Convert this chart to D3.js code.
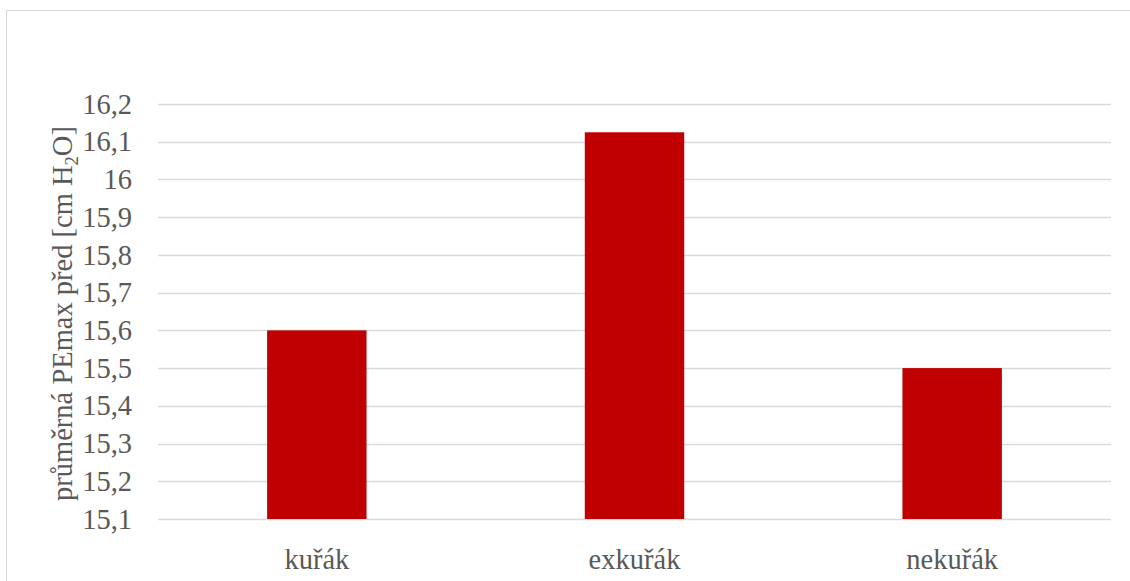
<!DOCTYPE html>
<html>
<head>
<meta charset="utf-8">
<script src="https://cdn.jsdelivr.net/npm/d3@7"></script>
<style>
  html, body { margin: 0; padding: 0; background: #fff; }
  svg { display: block; }
  text { font-family: "Liberation Serif", "Times New Roman", serif; fill: #595959; }
</style>
</head>
<body>
<svg id="chart" width="1130" height="581"></svg>
<script>
// Average PEmax before, by smoking status
const categories = ["kuřák", "exkuřák", "nekuřák"];
const values = [15.6, 16.125, 15.5];
const yTicks = [15.1, 15.2, 15.3, 15.4, 15.5, 15.6, 15.7, 15.8, 15.9, 16.0, 16.1, 16.2];

const W = 1130, H = 581;
const margin = { left: 158, right: 19, top: 104, bottom: 62 };
const FONT = '"Liberation Serif", "Times New Roman", serif';
const FS = "28.5px";

const svg = d3.select("#chart");

// outer chart frame
svg.append("rect")
  .attr("x", 6.5).attr("y", 10.5)
  .attr("width", W + 10).attr("height", H + 10)
  .attr("fill", "none").attr("stroke", "#d9d9d9").attr("stroke-width", 1);

const x = d3.scaleBand()
  .domain(categories)
  .range([margin.left, W - margin.right])
  .paddingInner(0.687)
  .paddingOuter(0.3435);

const y = d3.scaleLinear()
  .domain([15.1, 16.2])
  .range([H - margin.bottom, margin.top]);

const fmt = v => (Math.round(v * 10) / 10).toString().replace(".", ",");

// gridlines
svg.append("g")
  .selectAll("line")
  .data(yTicks)
  .join("line")
  .attr("x1", margin.left).attr("x2", W - margin.right)
  .attr("y1", d => Math.round(y(d)) + 0.5).attr("y2", d => Math.round(y(d)) + 0.5)
  .attr("stroke", "#d9d9d9").attr("stroke-width", 1.5);

// y axis labels
const yAxis = d3.axisLeft(y).tickValues(yTicks).tickFormat(fmt).tickSize(0).tickPadding(26);
const gy = svg.append("g").attr("transform", `translate(${margin.left},0)`).call(yAxis);
gy.select(".domain").remove();
gy.selectAll("text")
  .attr("fill", "#595959")
  .style("font-family", FONT)
  .style("font-size", FS);

// bars
svg.append("g")
  .selectAll("rect")
  .data(values)
  .join("rect")
  .attr("x", (d, i) => x(categories[i]))
  .attr("width", x.bandwidth())
  .attr("y", d => y(d))
  .attr("height", d => y(15.1) - y(d))
  .attr("fill", "#c00000");

// category labels
const xAxis = d3.axisBottom(x).tickSize(0).tickPadding(30);
const gx = svg.append("g").attr("transform", `translate(0,${H - margin.bottom})`).call(xAxis);
gx.select(".domain").remove();
gx.selectAll("text")
  .attr("fill", "#595959")
  .style("font-family", FONT)
  .style("font-size", FS);

// y axis title with subscript
const title = svg.append("text")
  .attr("transform", `translate(72,${(margin.top + H - margin.bottom) / 2 + 2}) rotate(-90)`)
  .attr("text-anchor", "middle")
  .style("font-family", FONT)
  .style("font-size", FS);
title.append("tspan").text("průměrná PEmax před [cm H");
title.append("tspan").text("2").style("font-size", "18.5px").attr("dy", "6");
title.append("tspan").text("O]").attr("dy", "-6");
</script>
</body>
</html>
